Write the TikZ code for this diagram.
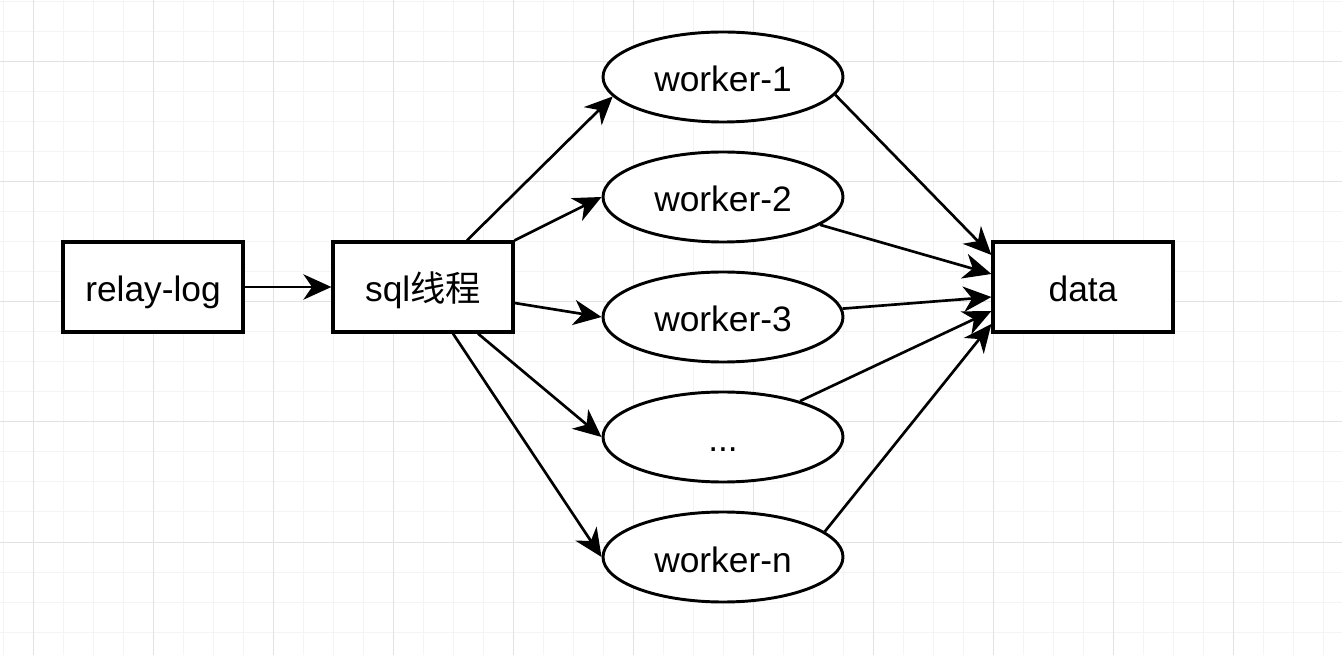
\documentclass[tikz,border=0pt]{standalone}
\usepackage{fontspec}
\setmainfont{Liberation Sans}
\newfontfamily\cjk{Noto Sans CJK SC}
\usetikzlibrary{shapes.geometric,arrows.meta,calc}
\definecolor{gridminor}{HTML}{F4F4F4}
\definecolor{gridmajor}{HTML}{E2E2E2}
\tikzset{
  labeltext/.style={font=\fontsize{26.5}{31}\selectfont, text height=22.5pt, text depth=0pt},
  boxnode/.style={draw, line width=2.4pt, rectangle, minimum width=135pt, minimum height=67.5pt, inner sep=0pt, fill=white, labeltext},
  ovalnode/.style={draw, line width=2.2pt, ellipse, minimum width=180pt, minimum height=67.5pt, inner sep=0pt, fill=white, labeltext},
  link/.style={line width=2pt, -{Stealth[length=21pt,width=19pt,inset=6.5pt]}}
}
\begin{document}
\begin{tikzpicture}[x=0.75pt,y=-0.75pt]
  \useasboundingbox (0,0) rectangle (1342,655);
  \fill[white] (0,0) rectangle (1342,655);
  % background grid
  \foreach \gx in {3,33,...,1342} \draw[gridminor, line width=0.75pt] (\gx,0) -- (\gx,655);
  \foreach \gy in {2,32,...,655} \draw[gridminor, line width=0.75pt] (0,\gy) -- (1342,\gy);
  \foreach \gx in {33,153,...,1342} \draw[gridmajor, line width=0.75pt] (\gx,0) -- (\gx,655);
  \foreach \gy in {62,182,...,655} \draw[gridmajor, line width=0.75pt] (0,\gy) -- (1342,\gy);

  % nodes
  \node[boxnode] (relay) at (153,287) {relay-log};
  \node[boxnode] (sql) at (423,287) {sql{\cjk 线程}};
  \node[boxnode] (data) at (1083,287) {data};
  \node[ovalnode] (w1) at (723,77) {worker-1};
  \node[ovalnode] (w2) at (723,197) {worker-2};
  \node[ovalnode] (w3) at (723,317) {worker-3};
  \node[ovalnode] (wd) at (723,437) {...};
  \node[ovalnode] (wn) at (723,557) {worker-n};

  % connectors
  \draw[link] (relay.east) -- (sql.west);
  \draw[link] ($(sql.north)+(44,0)$) -- (w1.190);
  \draw[link] (sql.north east) -- (w2.west);
  \draw[link] ($(sql.east)+(0,16)$) -- (w3.west);
  \draw[link] ($(sql.south)+(55,0)$) -- (wd.west);
  \draw[link] ($(sql.south)+(30,0)$) -- (wn.west);

  \draw[link] (w1.-9) -- ($(data.west)+(0,-32)$);
  \draw[link] (w2.-16) -- ($(data.west)+(0,-13)$);
  \draw[link] (w3.4) -- ($(data.west)+(0,10)$);
  \draw[link] (wd.25) -- ($(data.west)+(0,24)$);
  \draw[link] (wn.14) -- ($(data.west)+(0,37)$);
\end{tikzpicture}
\end{document}
